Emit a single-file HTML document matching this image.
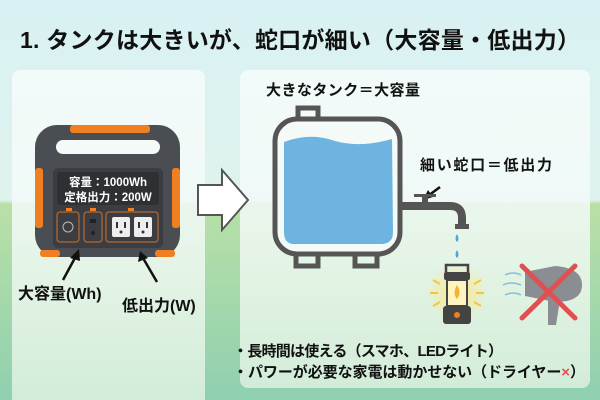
<!DOCTYPE html>
<html><head><meta charset="utf-8"><style>
html,body{margin:0;padding:0;width:600px;height:400px;overflow:hidden}
svg{display:block;font-family:"Liberation Sans","Noto Sans CJK JP",sans-serif;font-weight:bold}
</style></head><body>
<svg width="600" height="400" viewBox="0 0 600 400" xmlns="http://www.w3.org/2000/svg">
<defs>
<linearGradient id="bg" x1="0" y1="0" x2="0" y2="1">
<stop offset="0" stop-color="#d8f1f2"/><stop offset="0.5" stop-color="#dff3ee"/><stop offset="0.51" stop-color="#b9e0a6"/><stop offset="1" stop-color="#8fd0b0"/>
</linearGradient>
<linearGradient id="pn" x1="0" y1="0" x2="0" y2="1">
<stop offset="0" stop-color="#f6fcfb" stop-opacity=".9"/><stop offset="0.45" stop-color="#f2faf8" stop-opacity=".85"/><stop offset="1" stop-color="#eef8ea" stop-opacity=".7"/>
</linearGradient>
<radialGradient id="glow"><stop offset="0" stop-color="#ffe680"/><stop offset="1" stop-color="#ffe680" stop-opacity="0"/></radialGradient>
</defs>
<rect width="600" height="400" fill="url(#bg)"/>
<text x="20" y="48" font-size="23" fill="#111" textLength="560">1. タンクは大きいが、蛇口が細い（大容量・低出力）</text>
<rect x="12" y="70" width="193" height="340" rx="8" fill="url(#pn)"/>
<rect x="240" y="70" width="350" height="318" rx="8" fill="url(#pn)"/>
<!-- power station -->
<rect x="35" y="125" width="145" height="132" rx="22" fill="#4a4d52"/>
<rect x="70" y="125" width="80" height="8" rx="3" fill="#f07f22"/>
<rect x="35" y="168" width="8" height="60" rx="3" fill="#f07f22"/>
<rect x="172" y="168" width="8" height="60" rx="3" fill="#f07f22"/>
<rect x="40" y="250" width="20" height="7" rx="3" fill="#f07f22"/>
<rect x="155" y="250" width="20" height="7" rx="3" fill="#f07f22"/>
<rect x="56" y="140" width="104" height="14" rx="7" fill="#f4faf8"/>
<rect x="53" y="168" width="110" height="80" rx="5" fill="#3b3d42"/>
<rect x="57" y="172" width="102" height="33" rx="3" fill="#2e3034"/>
<text x="108" y="186" font-size="11.5" fill="#fff" text-anchor="middle">容量：1000Wh</text>
<text x="108" y="201" font-size="11.5" fill="#fff" text-anchor="middle">定格出力：200W</text>
<rect x="57" y="212" width="22" height="30" rx="3" fill="none" stroke="#d1722a" stroke-width="1"/>
<circle cx="68" cy="227" r="5" fill="none" stroke="#bbb" stroke-width="1"/>
<rect x="84" y="212" width="18" height="30" rx="3" fill="none" stroke="#d1722a" stroke-width="1"/>
<rect x="90" y="219" width="6" height="4" fill="#222"/><circle cx="93" cy="233" r="2" fill="#222"/>
<rect x="106" y="212" width="52" height="30" rx="3" fill="none" stroke="#d1722a" stroke-width="1"/>
<rect x="112" y="217" width="18" height="20" rx="2" fill="#eee"/><rect x="134" y="217" width="18" height="20" rx="2" fill="#eee"/>
<rect x="116" y="222" width="2" height="6" fill="#333"/><rect x="124" y="222" width="2" height="6" fill="#333"/><circle cx="121" cy="232" r="1.5" fill="#333"/>
<rect x="138" y="222" width="2" height="6" fill="#333"/><rect x="146" y="222" width="2" height="6" fill="#333"/><circle cx="143" cy="232" r="1.5" fill="#333"/>
<rect x="66" y="208" width="6" height="3" fill="#f07f22"/><rect x="90" y="208" width="6" height="3" fill="#f07f22"/><rect x="128" y="208" width="6" height="3" fill="#f07f22"/>
<!-- arrows -->
<g stroke="#111" stroke-width="2.5" fill="#111">
<line x1="63" y1="280" x2="76" y2="256"/><line x1="157" y1="282" x2="143" y2="258"/>
<line x1="440" y1="187" x2="428" y2="196"/>
</g>
<polygon points="79,249 70,258 80,261" fill="#111"/>
<polygon points="140,251 138,262 148,258" fill="#111"/>
<polygon points="423,200 428,190 433,197" fill="#111"/>
<text x="18" y="299" font-size="16" fill="#111">大容量(Wh)</text>
<text x="122" y="311" font-size="16" fill="#111">低出力(W)</text>
<!-- big arrow -->
<polygon points="198,185 222,185 222,170 248,200 222,230 222,215 198,215" fill="#fff" stroke="#555" stroke-width="2"/>
<!-- tank -->
<text x="266" y="95" font-size="15" fill="#111" textLength="154">大きなタンク＝大容量</text>
<path d="M298,121 V108 H318 V121" fill="#f4faf8" stroke="#555" stroke-width="5"/>
<rect x="275" y="119" width="125" height="135" rx="22" fill="#f4faf8" stroke="#555" stroke-width="5"/>
<path d="M296,254 V266 H318 V254 M355,254 V266 H377 V254" fill="none" stroke="#555" stroke-width="5"/>
<path d="M284,142 Q310,132 335,141 Q360,148 392,139 L393,232 Q393,244 381,244 H294 Q284,244 284,232 Z" fill="#6db4e0"/>
<!-- tap -->
<path d="M400,206 H450 Q462,206 462,218 V226" fill="none" stroke="#555" stroke-width="8"/>
<rect x="455" y="224" width="14" height="5" fill="#555"/>
<rect x="422" y="196" width="6" height="10" fill="#555"/><rect x="414" y="194" width="22" height="3" fill="#555"/>
<text x="420" y="170" font-size="15" fill="#111" textLength="132">細い蛇口＝低出力</text>
<path d="M457,234 q3,5 0,8 q-3,-3 0,-8z M457,250 q3,5 0,8 q-3,-3 0,-8z" fill="#4aa3dc"/>
<!-- lantern -->
<circle cx="457" cy="293" r="30" fill="url(#glow)"/>
<path d="M446,272 V265 H468 V272" fill="none" stroke="#444" stroke-width="2.5"/>
<rect x="444" y="272" width="26" height="8" rx="2" fill="#444"/>
<rect x="447" y="280" width="20" height="26" fill="#fff4c0" stroke="#444" stroke-width="2"/>
<path d="M457,285 q5,8 0,14 q-5,-6 0,-14z" fill="#f4b234"/>
<rect x="443" y="306" width="28" height="18" rx="3" fill="#444"/>
<circle cx="457" cy="315" r="3" fill="#f07f22"/>
<g stroke="#f6c63a" stroke-width="2"><line x1="430" y1="293" x2="438" y2="293"/><line x1="476" y1="293" x2="484" y2="293"/><line x1="433" y1="280" x2="440" y2="284"/><line x1="481" y1="280" x2="474" y2="284"/><line x1="433" y1="306" x2="440" y2="302"/><line x1="481" y1="306" x2="474" y2="302"/></g>
<!-- dryer -->
<g stroke="#7fc0e0" stroke-width="1.5" fill="none"><path d="M505,275 q8,-4 16,0"/><path d="M503,285 q8,-4 18,0"/><path d="M505,295 q8,-4 16,0"/></g>
<path d="M525,272 L555,266 Q582,268 582,285 Q582,302 555,302 L525,296 Z" fill="#8a8d92"/>
<path d="M548,300 L560,300 L556,325 L548,325 Z" fill="#8a8d92"/>
<g stroke="#e05050" stroke-width="5" stroke-linecap="round"><line x1="522" y1="266" x2="575" y2="318"/><line x1="575" y1="266" x2="522" y2="318"/></g>
<text x="233" y="356" font-size="15" fill="#111" textLength="270">・長時間は使える（スマホ、LEDライト）</text>
<text x="233" y="377" font-size="15" fill="#111" textLength="352">・パワーが必要な家電は動かせない（ドライヤー<tspan fill="#e05050">×</tspan>）</text>
</svg>
</body></html>
